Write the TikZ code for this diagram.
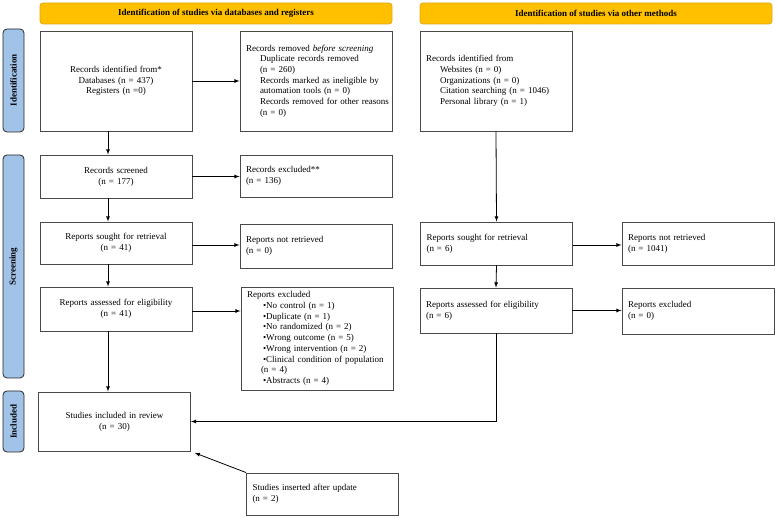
\documentclass[tikz,border=0pt]{standalone}
\usepackage{fontspec}
\setmainfont{Liberation Serif}
\usetikzlibrary{arrows,calc}
\definecolor{bannerfill}{HTML}{FFC000}
\definecolor{bannerline}{HTML}{E0A818}
\definecolor{sidefill}{HTML}{A2C3E8}
\definecolor{boxline}{HTML}{4A4A4A}
\newcommand{\ind}{\hspace*{14pt}}
\tikzset{
	box/.style={draw=boxline,line width=.9pt,inner xsep=6pt,inner ysep=2pt,text width=140pt,minimum width=152pt,font=\fontsize{9}{10.7}\selectfont},
	mid/.style={box,align=center},
	lft/.style={box,align=left},
	banner/.style={draw=bannerline,fill=bannerfill,line width=.8pt,rounded corners=3pt,minimum width=352pt,minimum height=21pt,font=\fontsize{9}{10.7}\selectfont\bfseries},
	side/.style={draw=black!85,fill=sidefill,line width=.8pt,rounded corners=4pt,rotate=90,minimum height=21pt,inner sep=0pt,font=\fontsize{9}{10.7}\selectfont\bfseries},
}
\begin{document}
\begin{tikzpicture}[x=1pt,y=-1pt,>=latex,line width=.8pt]
	\useasboundingbox (0,0) rectangle (777,518);
	% phase headers
	\node[banner] (b1) at (216,13.5) {Identification of studies via databases and registers};
	\node[banner] (b2) at (596,13.5) {Identification of studies via other methods};
	\node[side,minimum width=103pt] (s1) at (13.5,80.5) {Identification};
	\node[side,minimum width=223pt] (s2) at (13.5,266.5) {Screening};
	\node[side,minimum width=61pt] (s3) at (13.5,421.5) {Included};
	% databases and registers
	\node[mid,minimum height=100pt] (id) at (116,81) {Records identified from*\\Databases (n = 437)\\Registers (n =0)};
	\node[lft,minimum height=100pt] (rm) at (316,81) {Records removed \textit{before screening}\\\ind Duplicate records removed\\\ind (n = 260)\\\ind Records marked as ineligible by\\\ind automation tools (n = 0)\\\ind\mbox{Records removed for other reasons}\\\ind (n = 0)};
	\node[mid,minimum height=43pt] (scr) at (116,176.5) {Records screened\\(n = 177)};
	\node[lft,minimum height=42pt] (exc) at (316,176) {Records excluded**\\(n = 136)};
	\node[mid,minimum height=42pt] (srt) at (116,243) {Reports sought for retrieval\\(n = 41)};
	\node[lft,minimum height=44pt] (nrt) at (316,246) {Reports not retrieved\\(n = 0)};
	\node[mid,minimum height=44pt] (ass) at (116,309) {Reports assessed for eligibility\\(n = 41)};
	\node[lft,minimum height=103pt] (rex) at (317,338.5) {Reports excluded\\\hspace*{16pt}•No control (n = 1)\\\hspace*{16pt}•Duplicate (n = 1)\\\hspace*{16pt}•No randomized (n = 2)\\\hspace*{16pt}•Wrong outcome (n = 5)\\\hspace*{16pt}•Wrong intervention (n = 2)\\\hspace*{16pt}•Clinical condition of population\\\hspace*{14pt}(n = 4)\\\hspace*{16pt}•Abstracts (n = 4)};
	\node[mid,minimum height=59pt] (inc) at (114.5,421.5) {Studies included in review\\(n = 30)};
	\node[lft,minimum height=42pt] (ins) at (322.5,494) {Studies inserted after update\\(n = 2)};
	% other methods
	\node[lft,minimum height=100pt] (ido) at (496,81) {Records identified from\\\ind Websites (n = 0)\\\ind Organizations (n = 0)\\\ind Citation searching (n = 1046)\\\ind Personal library (n = 1)};
	\node[lft,minimum height=43pt] (srto) at (496.5,243.5) {Reports sought for retrieval\\(n = 6)};
	\node[lft,minimum height=43pt] (nrto) at (698,243.5) {Reports not retrieved\\(n = 1041)};
	\node[lft,minimum height=45pt] (asso) at (496,310.5) {Reports assessed for eligibility\\(n = 6)};
	\node[lft,minimum height=46pt] (rexo) at (698,311) {Reports excluded\\(n = 0)};
	% arrows
	\draw[->] ([xshift=-8pt]id.south) -- ([xshift=-8pt]scr.north);
	\draw[->] ([xshift=-8pt]scr.south) -- ([xshift=-8pt]srt.north);
	\draw[->] ([xshift=-8pt]srt.south) -- ([xshift=-8pt]ass.north);
	\draw[->] ([xshift=-8pt]ass.south) -- ([xshift=-8pt]ass.south |- inc.north);
	\draw[->] (id.east) -- (id.east -| rm.west);
	\draw[->] (scr.east) -- (scr.east -| exc.west);
	\draw[->] ([yshift=-2pt]srt.east) -- ([yshift=-2pt]srt.east -| nrt.west);
	\draw[->] ([yshift=-2pt]ass.east) -- ([yshift=-2pt]ass.east -| rex.west);
	\draw[->] (ido.south) -- (srto.north);
	\draw[->] (srto.south) -- (asso.north);
	\draw[->] ([yshift=-1.5pt]srto.east) -- ([yshift=-1.5pt]srto.east -| nrto.west);
	\draw[->] (asso.east) -- (asso.east -| rexo.west);
	\draw[->] (asso.south) |- (inc.east);
	\draw[->,shorten >=4pt] (ins.north west) -- (inc.south east);
\end{tikzpicture}
\end{document}
